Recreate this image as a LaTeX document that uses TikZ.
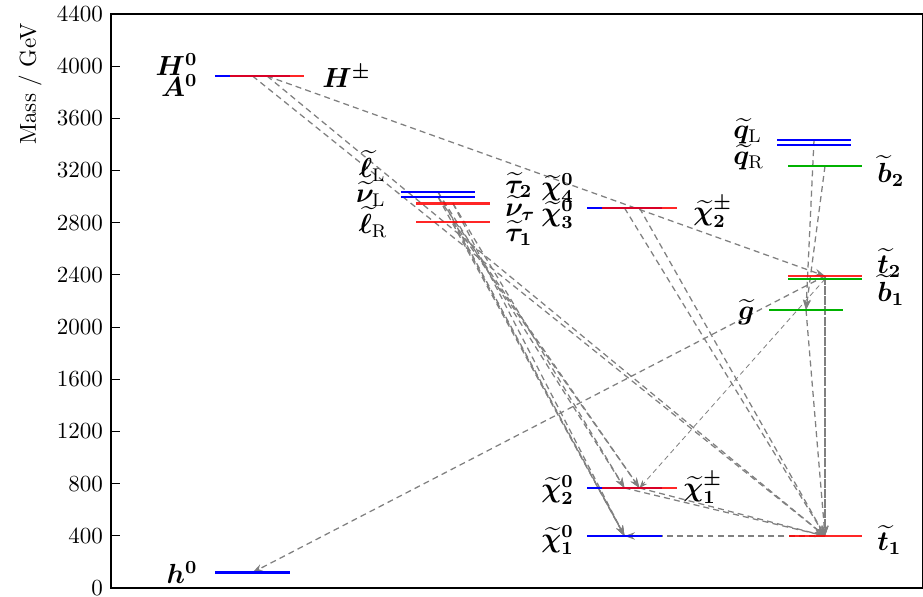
\documentclass[tikz,border=0pt]{standalone}
\usepackage{amsmath,bm}
\usetikzlibrary{arrows.meta}
\newcommand\stl[1]{\bm{\widetilde{#1}}}
\begin{document}
\begin{tikzpicture}[x=0.434pt,y=-0.434pt,
  lev/.style={line width=0.9pt},
  blev/.style={lev,blue},
  rlev/.style={lev,red,opacity=0.85},
  glev/.style={lev,green!70!black},
  dec/.style={gray,dash pattern=on 2.6pt off 1.8pt,line width=0.55pt,-{Stealth[length=4.5pt,width=3.2pt]}},
  decthin/.style={gray,dash pattern=on 2.2pt off 1.6pt,line width=0.35pt,-{Stealth[length=3.5pt,width=2.6pt]}},
  lbl/.style={inner sep=0pt,font=\large},
  lw/.style={lbl,anchor=west},
  le/.style={lbl,anchor=east}]
\useasboundingbox (0,0) rectangle (923,597);
% axis
\draw[line width=0.45pt] (111,14) rectangle (922.5,588);
\foreach \m [count=\i from 0] in {0,400,...,4400} {
  \draw[line width=0.45pt] (111,588-\i*52.1818) -- ++(9,0);
  \node[left] at (111,588-\i*52.1818) {\m};
}
\node[rotate=90] (ylab) at (30,84) {Mass / GeV};
% coordinates (level centres)
\coordinate (h0) at (252.5,572.5);
\coordinate (H0) at (252.5,76);
\coordinate (A0) at (267,76);
\coordinate (lL) at (438,192);
\coordinate (nL) at (438,197);
\coordinate (ta2) at (453,203.5);
\coordinate (ta1) at (453,221.7);
\coordinate (N4) at (624.5,208);
\coordinate (C2) at (639.5,208);
\coordinate (N2) at (624.5,488);
\coordinate (C1) at (639.5,488);
\coordinate (N1) at (624.5,536);
\coordinate (qL) at (814,140);
\coordinate (qR) at (814,145);
\coordinate (b2) at (825,166);
\coordinate (t2) at (825,276);
\coordinate (b1) at (825,279);
\coordinate (gl) at (806,310);
\coordinate (t1) at (825,536);
% decays
\draw[dec] (A0) -- (t2);
\draw[dec] (H0) -- (t1);
\draw[dec] (A0) -- (t1);
\foreach \s in {lL,nL,ta2,ta1} {
  \draw[dec] (\s) -- (N1);
}
\draw[dec] (lL) -- (N2);
\draw[dec] (ta2) -- (N2);
\draw[dec] (nL) -- (C1);
\draw[dec] (ta1) -- (C1);
\draw[dec] (N4) -- (t1);
\draw[dec] (C2) -- (t1);
\draw[dec] (N2) -- (t1);
\draw[dec] (C1) -- (t1);
\draw[dec] (t1) -- (N1);
\draw[dec] (qL) -- (gl);
\draw[dec] (b2) -- (gl);
\draw[dec] (gl) -- (t1);
\draw[dec] (t2) -- (t1);
\draw[dec] (b1) -- (t1);
\draw[dec] (t2) -- (h0);
\draw[decthin] (b1) -- (C1);
% levels (on top)
\draw[blev] (215,572.5) -- (290,572.5);
\draw[blev] (215,76) -- (290,76);
\draw[rlev] (230,76) -- (304,76);
\draw[blev] (401,192) -- (475,192);
\draw[blev] (401,197) -- (475,197);
\draw[rlev] (416,203.5) -- (490,203.5);
\draw[rlev] (416,221.7) -- (490,221.7);
\draw[blev] (587,208) -- (662,208);
\draw[rlev] (602,208) -- (677,208);
\draw[blev] (587,488) -- (662,488);
\draw[rlev] (602,488) -- (677,488);
\draw[blev] (587,536) -- (662,536);
\draw[blev] (777,140) -- (851,140);
\draw[blev] (777,145) -- (851,145);
\draw[glev] (788,166) -- (862,166);
\draw[glev] (788,279) -- (862,279);
\draw[rlev] (788,276) -- (862,276);
\draw[glev] (769,310) -- (843,310);
\draw[rlev] (789,536) -- (862,536);
% labels
\node[le] (lH0) at (198,65) {$\bm{H^0}$};
\node[le] (lA0) at (198,86) {$\bm{A^0}$};
\node[lw] (lHpm) at (322,76) {$\bm{H^\pm}$};
\node[le] (lh0) at (198,573) {$\bm{h^0}$};
\node[le] (llL) at (386,166) {$\stl{\ell}_{\mathrm{L}}$};
\node[le] (lnL) at (386,194) {$\stl{\nu}_{\mathrm{L}}$};
\node[le] (llR) at (388,222) {$\stl{\ell}_{\mathrm{R}}$};
\node[lw] (lta2) at (505,185) {$\bm{\widetilde{\tau}_2}$};
\node[lw] (lnt) at (505,208) {$\bm{\widetilde{\nu}_\tau}$};
\node[lw] (lta1) at (505,233) {$\bm{\widetilde{\tau}_1}$};
\node[lw] (lN4) at (541,188) {$\bm{\widetilde{\chi}^0_4}$};
\node[lw] (lN3) at (541,214) {$\bm{\widetilde{\chi}^0_3}$};
\node[lw] (lC2) at (693,212) {$\bm{\widetilde{\chi}^\pm_2}$};
\node[lw] (lN2) at (541,490) {$\bm{\widetilde{\chi}^0_2}$};
\node[lw] (lC1) at (683,488) {$\bm{\widetilde{\chi}^\pm_1}$};
\node[lw] (lN1) at (541,540) {$\bm{\widetilde{\chi}^0_1}$};
\node[lw] (lqL) at (733,131) {$\stl{q}_{\mathrm{L}}$};
\node[lw] (lqR) at (733,157) {$\stl{q}_{\mathrm{R}}$};
\node[lw] (lb2) at (877,171) {$\bm{\widetilde{b}_2}$};
\node[lw] (lt2) at (877,263) {$\bm{\widetilde{t}_2}$};
\node[lw] (lb1) at (877,290) {$\bm{\widetilde{b}_1}$};
\node[le] (lgl) at (755,312) {$\stl{g}$};
\node[lw] (lt1) at (877,540) {$\bm{\widetilde{t}_1}$};
\end{tikzpicture}
\end{document}
